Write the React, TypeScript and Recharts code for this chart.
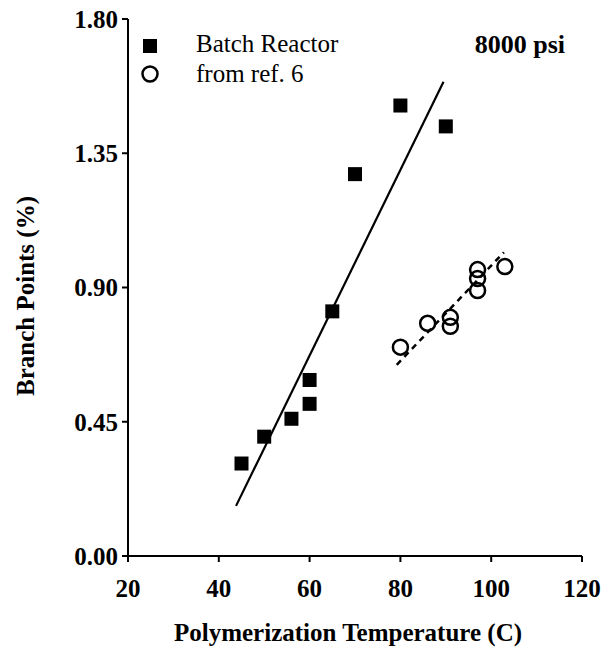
import React from "react"
import { ComposedChart, Scatter, XAxis, YAxis, ReferenceLine } from "recharts"

// Batch reactor points (temperature C, branch points %)
const batchTemp = [45, 50, 56, 60, 60, 65, 70, 80, 90]
const batchBranch = [0.31, 0.4, 0.46, 0.51, 0.59, 0.82, 1.28, 1.51, 1.44]

// literature points, ref. 6
const refTemp = [80, 86, 91, 91, 97, 97, 97, 103]
const refBranch = [0.7, 0.78, 0.8, 0.77, 0.96, 0.93, 0.89, 0.97]

// fitted line end points
const batchFitTemp = [43.8, 89.5]
const batchFitBranch = [0.168, 1.59]
const refFitTemp = [79.2, 102.8]
const refFitBranch = [0.641, 1.018]

const xTicks = [20, 40, 60, 80, 100, 120]
const yTicks = [0, 0.45, 0.9, 1.35, 1.8]

const batchData = batchTemp.map((t, i) => ({ x: t, y: batchBranch[i] }))
const refData = refTemp.map((t, i) => ({ x: t, y: refBranch[i] }))
const toSegment = (xs: number[], ys: number[]) => xs.map((x, i) => ({ x, y: ys[i] }))

const FONT = "Liberation Serif, Times New Roman, Times, DejaVu Serif, serif"
const tickStyle = { fontFamily: FONT, fontSize: 25, fontWeight: 700, fill: "#000" }

const OpenCircle = (props: any) => {
  const { cx, cy } = props
  if (cx == null || cy == null) return null
  return <circle cx={cx} cy={cy} r={7.5} fill="none" stroke="#000" strokeWidth={2.5} />
}

const FilledSquare = (props: any) => {
  const { cx, cy } = props
  if (cx == null || cy == null) return null
  return <rect x={cx - 7} y={cy - 7} width={14} height={14} fill="#000" />
}

export default function App() {
  return (
    <div style={{ position: "absolute", left: 0, top: 0, width: 603, height: 651, background: "#fff", fontFamily: FONT }}>
      <ComposedChart width={603} height={651} margin={{ top: 19, right: 21, bottom: 0, left: 0 }} style={{ fontFamily: FONT }}>
        <XAxis
          type="number"
          dataKey="x"
          domain={[20, 120]}
          ticks={xTicks}
          height={95}
          tickSize={6}
          tickMargin={17}
          tick={tickStyle}
          axisLine={{ stroke: "#000", strokeWidth: 2 }}
          tickLine={{ stroke: "#000", strokeWidth: 2 }}
          allowDataOverflow
        />
        <XAxis xAxisId="top" orientation="top" type="number" domain={[20, 120]} height={0} tick={false} tickLine={false} axisLine={{ stroke: "#000", strokeWidth: 2 }} />
        <YAxis
          type="number"
          dataKey="y"
          domain={[0, 1.8]}
          ticks={yTicks}
          width={128}
          tickSize={6}
          tickMargin={4}
          tick={tickStyle}
          tickFormatter={(v: number) => v.toFixed(2)}
          axisLine={{ stroke: "#000", strokeWidth: 2 }}
          tickLine={{ stroke: "#000", strokeWidth: 2 }}
          allowDataOverflow
        />
        <YAxis yAxisId="right" orientation="right" type="number" domain={[0, 1.8]} width={0} tick={false} tickLine={false} axisLine={{ stroke: "#000", strokeWidth: 2 }} />

        <ReferenceLine segment={toSegment(batchFitTemp, batchFitBranch)} stroke="#000" strokeWidth={2.2} ifOverflow="visible" />
        <ReferenceLine segment={toSegment(refFitTemp, refFitBranch)} stroke="#000" strokeWidth={2.5} strokeDasharray="6 5" ifOverflow="visible" />

        <Scatter data={batchData} shape={<FilledSquare />} isAnimationActive={false} />
        <Scatter data={refData} shape={<OpenCircle />} isAnimationActive={false} />
      </ComposedChart>

      {/* titles, legend and pressure note */}
      <svg width={603} height={651} style={{ position: "absolute", left: 0, top: 0, pointerEvents: "none", fontFamily: FONT }}>
        <text x={348} y={641} textAnchor="middle" style={{ fontFamily: FONT, fontSize: 25, fontWeight: 700 }}>
          Polymerization Temperature (C)
        </text>
        <text x={34} y={296} textAnchor="middle" transform="rotate(-90, 34, 296)" style={{ fontFamily: FONT, fontSize: 25, fontWeight: 700 }}>
          Branch Points (%)
        </text>
        <text x={565} y={53} textAnchor="end" style={{ fontFamily: FONT, fontSize: 26, fontWeight: 700 }}>
          8000 psi
        </text>
        <rect x={143} y={39} width={14} height={14} fill="#000" />
        <text x={196} y={52} style={{ fontFamily: FONT, fontSize: 25 }}>
          Batch Reactor
        </text>
        <circle cx={150} cy={74} r={7.5} fill="none" stroke="#000" strokeWidth={2.5} />
        <text x={196} y={82} style={{ fontFamily: FONT, fontSize: 25 }}>
          from ref. 6
        </text>
      </svg>
    </div>
  )
}
